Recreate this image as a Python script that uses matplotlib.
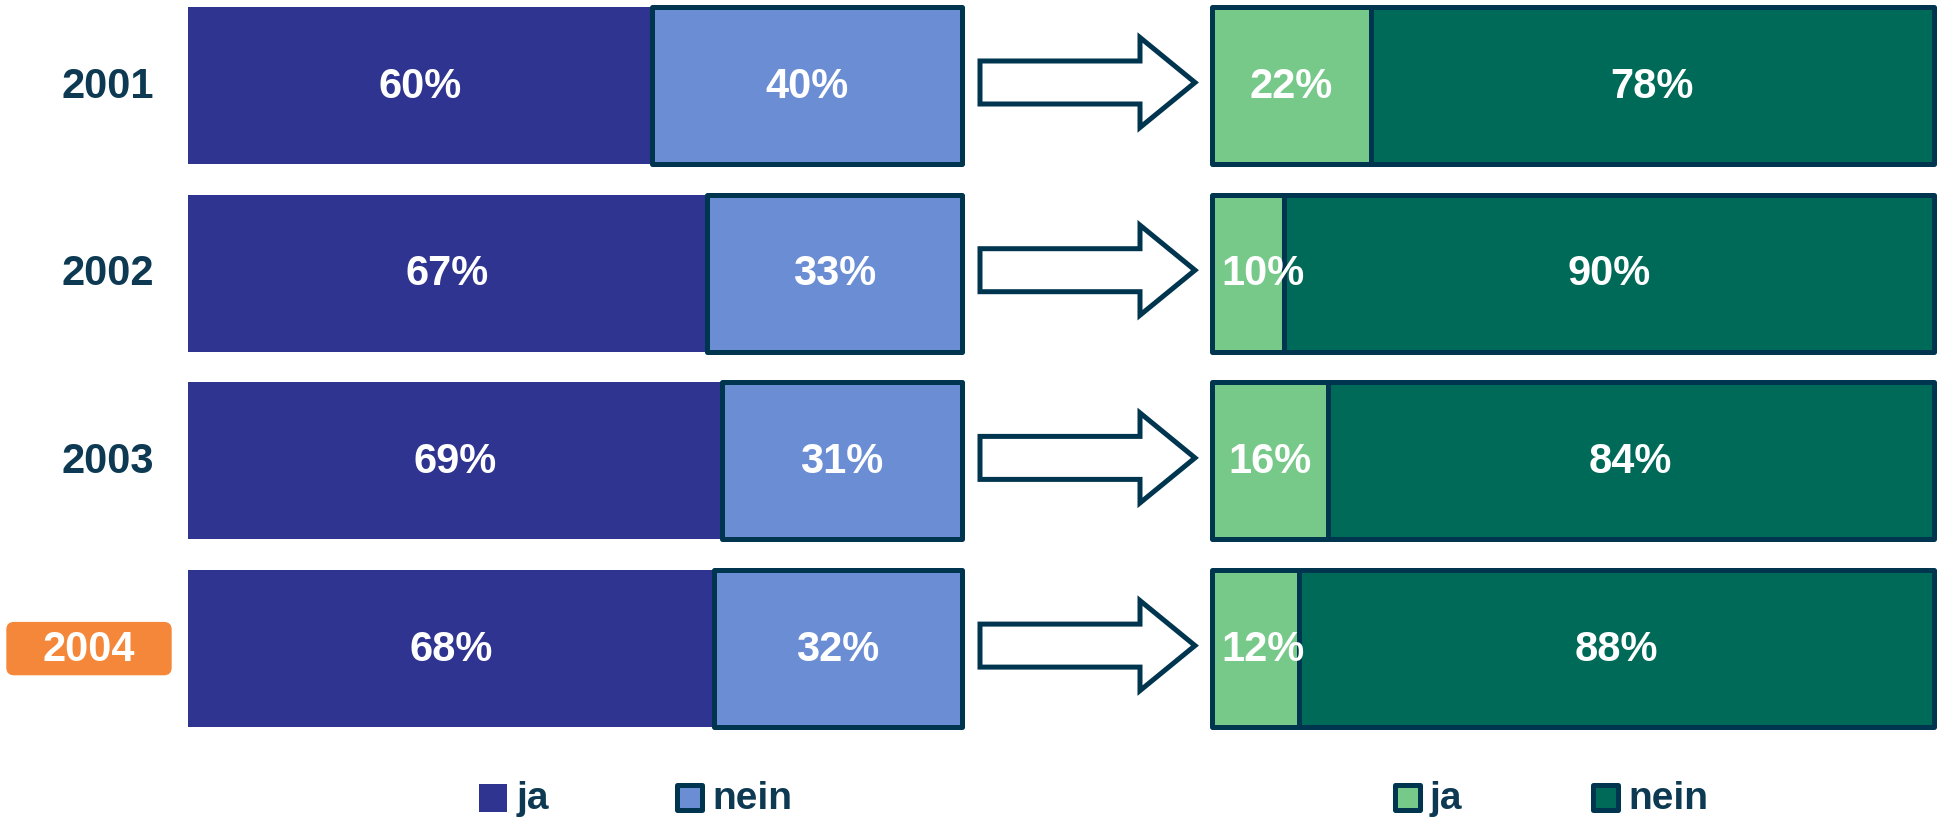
import matplotlib
matplotlib.use("Agg")
import matplotlib.pyplot as plt
from matplotlib.patches import Polygon, Rectangle, FancyBboxPatch

# ---- data ----
years = ["2001", "2002", "2003", "2004"]
left_ja = [60, 67, 69, 68]
left_nein = [40, 33, 31, 32]
right_ja = [22, 10, 16, 12]
right_nein = [78, 90, 84, 88]
legend_labels = ["ja", "nein"]
highlight_year = "2004"

# ---- style ----
C_LJA = "#2E3490"
C_LNEIN = "#6A8DD4"
C_RJA = "#77C98A"
C_RNEIN = "#006A58"
EDGE = "#003550"
TXT = "#0D3A52"
ORANGE = "#F5873A"
FONT = "Liberation Sans"

W, H = 1941, 820
fig = plt.figure(figsize=(W / 100, H / 100), dpi=100)

row_c0 = 86.5      # px of first row center
row_step = 187.7   # px between rows
ylim = ((H - row_c0) / row_step, (0 - row_c0) / row_step)
bar_h = 157 / row_step
lw = 3.6

def make_ax(x0, x1):
    ax = fig.add_axes([x0 / W, 0, (x1 - x0) / W, 1])
    ax.set_xlim(0, 100)
    ax.set_ylim(*ylim)
    ax.axis("off")
    return ax

axL = make_ax(188, 962)
axR = make_ax(1212, 1934)

ypos = list(range(len(years)))

# left bars
axL.barh(ypos, left_ja, height=bar_h, color=C_LJA, edgecolor="none")
b = axL.barh(ypos, left_nein, left=left_ja, height=bar_h, color=C_LNEIN,
             edgecolor=EDGE, linewidth=lw, joinstyle="round")
for p in b:
    p.set_clip_on(False)
# right bars
for vals, lefts, col in [(right_ja, None, C_RJA), (right_nein, right_ja, C_RNEIN)]:
    b = axR.barh(ypos, vals, left=lefts, height=bar_h, color=col,
                 edgecolor=EDGE, linewidth=lw, joinstyle="round")
    for p in b:
        p.set_clip_on(False)

tk = dict(color="white", fontsize=30, fontweight="bold", family=FONT,
          ha="center", va="center")
for i in ypos:
    axL.text(left_ja[i] / 2, i, f"{left_ja[i]}%", **tk)
    axL.text(left_ja[i] + left_nein[i] / 2, i, f"{left_nein[i]}%", **tk)
    xr = max(right_ja[i] / 2, 7.0)
    axR.text(xr, i, f"{right_ja[i]}%", **tk)
    axR.text(right_ja[i] + right_nein[i] / 2, i, f"{right_nein[i]}%", **tk)

# overlay axes in pixel x, row y
ov = fig.add_axes([0, 0, 1, 1])
ov.set_xlim(0, W)
ov.set_ylim(*ylim)
ov.axis("off")
ov.set_zorder(-1)

# arrows
shaft_h = 21.5 / row_step
head_h = 45 / row_step
for i in ypos:
    yc = i - 3 / row_step
    pts = [(980, yc - shaft_h), (1140, yc - shaft_h), (1140, yc - head_h),
           (1195, yc), (1140, yc + head_h), (1140, yc + shaft_h),
           (980, yc + shaft_h)]
    ov.add_patch(Polygon(pts, closed=True, facecolor="white", edgecolor=EDGE,
                         linewidth=lw, joinstyle="miter"))

# legends / labels in pixel coordinates, top-down
lg = fig.add_axes([0, 0, 1, 1])
lg.set_xlim(0, W)
lg.set_ylim(H, 0)
lg.axis("off")

# year labels
for i, y in enumerate(years):
    yc_px = row_c0 + i * row_step
    if y == highlight_year:
        lg.add_patch(FancyBboxPatch((7, yc_px - 26), 164, 52,
                                    boxstyle="round,pad=0,rounding_size=7",
                                    facecolor=ORANGE, edgecolor=ORANGE,
                                    linewidth=1))
        lg.text(89, yc_px, y, color="white", fontsize=30, fontweight="bold",
                family=FONT, ha="center", va="center")
    else:
        lg.text(108, yc_px, y, color=TXT, fontsize=30, fontweight="bold",
                family=FONT, ha="center", va="center")

def legend_item(x, color, label, edged):
    if edged:
        lg.add_patch(Rectangle((x + 2.5, 785.5), 25, 25, facecolor=color,
                               edgecolor=EDGE, linewidth=lw, joinstyle="round"))
    else:
        lg.add_patch(Rectangle((x, 785), 28, 28, facecolor=color, edgecolor="none"))
    lg.text(x + 38, 799, label, color=TXT, fontsize=28, fontweight="bold",
            family=FONT, ha="left", va="center")

legend_item(479, C_LJA, legend_labels[0], False)
legend_item(674, C_LNEIN, legend_labels[1], True)
legend_item(1392, C_RJA, legend_labels[0], True)
legend_item(1590, C_RNEIN, legend_labels[1], True)

fig.savefig("out.png", dpi=100, facecolor="white")
